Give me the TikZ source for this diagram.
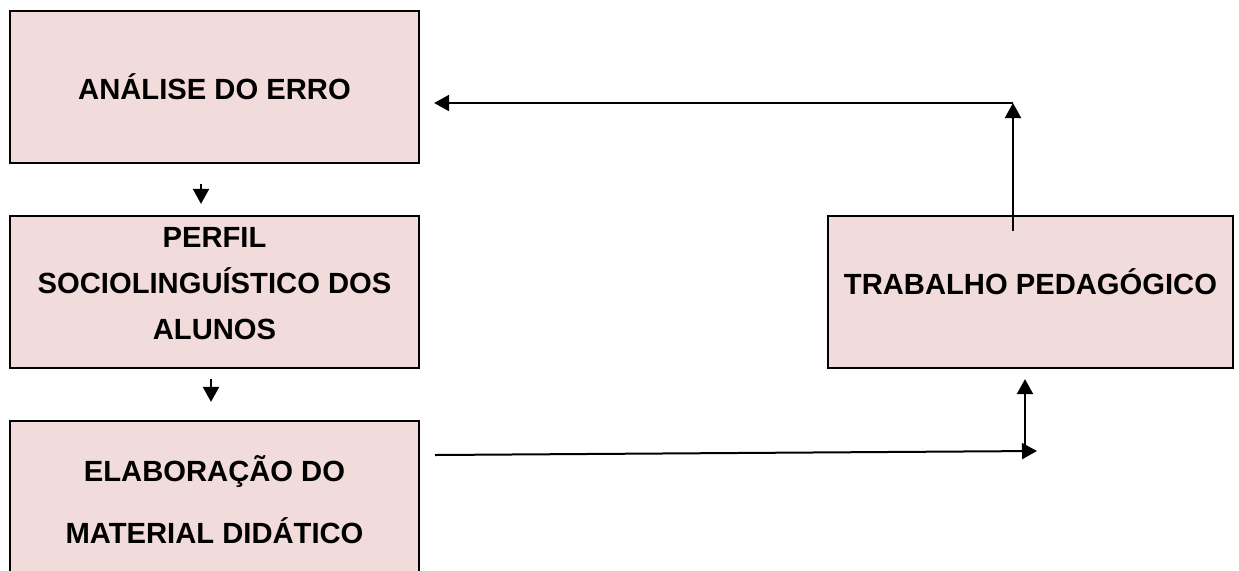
\documentclass[tikz,border=0pt]{standalone}
\usepackage{fontspec}
\setmainfont{Liberation Sans}
\usetikzlibrary{arrows.meta,positioning}
\definecolor{blush}{RGB}{242,220,219}
\tikzset{
  >={Triangle[length=7.5pt,width=8pt]},
  box/.style={draw=black,fill=blush,line width=1.1pt,inner sep=0pt,
    minimum width=#1},
  box/.default=204.5pt,
  lbl/.style={font=\fontsize{14.6}{#1}\selectfont\bfseries,align=center,inner sep=0pt},
  lbl/.default=23pt,
  flow/.style={->,line width=1pt},
}

\begin{document}
\begin{tikzpicture}[x=0.5pt,y=-0.5pt]
  \useasboundingbox (0,0) rectangle (1239,570);
  \clip (0,0) rectangle (1239,570);
  % boxes
  \node[box,minimum height=76pt] (erro) at (214.5,87) {};
  \node[box,minimum height=76pt] (perfil) at (214.5,292) {};
  \node[box,minimum height=99.5pt] (material) at (214.5,520.5) {};
  \node[box=202.5pt,minimum height=76pt] (trabalho) at (1030.5,292) {};
  % texts
  \node[lbl] (erro-t) at (erro.center) {ANÁLISE DO ERRO};
  \node[lbl] (perfil-t) at (214.5,284) {PERFIL\\SOCIOLINGUÍSTICO DOS\\ALUNOS};
  \node[lbl=31pt] (material-t) at (214.5,500) {ELABORAÇÃO DO\\MATERIAL DIDÁTICO};
  \node[lbl] (trabalho-t) at (1030.5,282) {TRABALHO PEDAGÓGICO};
  % arrows
  \draw[flow] ([xshift=-6.75pt,yshift=-10pt]erro.south) -- ([xshift=-6.75pt,yshift=5.5pt]perfil.north);
  \draw[flow] ([xshift=-1.75pt,yshift=-5pt]perfil.south) -- ([xshift=-1.75pt,yshift=9pt]material.north);
  \coordinate (volta) at (1013,103);
  \draw[flow] ([xshift=-8.75pt,yshift=-8pt]trabalho.north) -- (volta);
  \draw[flow] (volta) -- ([xshift=7pt]erro.east |- volta);
  \coordinate (ida) at (435,455);
  \coordinate (sobe) at (1025,452);
  \draw[flow] (ida) -- (1037,451);
  \draw[flow] (sobe) -- ([xshift=-2.75pt,yshift=-5pt]trabalho.south);
\end{tikzpicture}
\end{document}
